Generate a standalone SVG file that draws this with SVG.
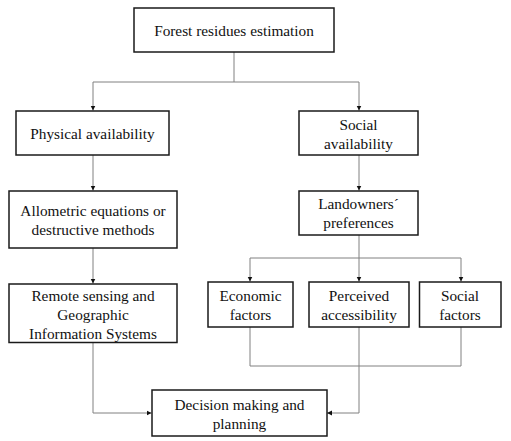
<svg xmlns="http://www.w3.org/2000/svg" width="511" height="441" viewBox="0 0 511 441">
<style>
.box{fill:#fff;stroke:#1a1a1a;stroke-width:1.5}
.t{font-family:"Liberation Serif","Times New Roman",serif;font-size:15.3px;fill:#111;text-anchor:middle}
.c{fill:none;stroke:#808080;stroke-width:1}
</style>
<defs>
<marker id="ah" markerUnits="userSpaceOnUse" markerWidth="6" markerHeight="6" refX="5" refY="3" orient="auto">
<path d="M0,0.5 L5,3 L0,5.5 z" fill="#111"/>
</marker>
</defs>
<rect width="511" height="441" fill="#fff"/>
<g id="connectors">
<path class="c" d="M234,52 V82 M93,82 H359"/>
<path class="c" d="M93,82 V110.5" marker-end="url(#ah)"/>
<path class="c" d="M359,82 V110.5" marker-end="url(#ah)"/>
<path class="c" d="M93,155 V190.5" marker-end="url(#ah)"/>
<path class="c" d="M359,155 V190.5" marker-end="url(#ah)"/>
<path class="c" d="M93,248 V283.5" marker-end="url(#ah)"/>
<path class="c" d="M359,235 V281.5" marker-end="url(#ah)"/>
<path class="c" d="M250,258 H461"/>
<path class="c" d="M250,258 V281.5" marker-end="url(#ah)"/>
<path class="c" d="M461,258 V281.5" marker-end="url(#ah)"/>
<path class="c" d="M250,327 V366 H461 V327"/>
<path class="c" d="M93,343 V413 H151.5" marker-end="url(#ah)"/>
<path class="c" d="M359,327 V413 H327" marker-end="url(#ah)"/>
</g>
<g id="forest-residues">
<rect class="box" x="134" y="8" width="200" height="44"/>
<text class="t" x="234" y="36">Forest residues estimation</text>
</g>
<g id="physical-availability">
<rect class="box" x="16" y="111" width="153" height="44"/>
<text class="t" x="92.5" y="138.5">Physical availability</text>
</g>
<g id="social-availability">
<rect class="box" x="299" y="111" width="119" height="44"/>
<text class="t" x="358.5" y="129.5">Social</text>
<text class="t" x="358.5" y="148.5">availability</text>
</g>
<g id="allometric">
<rect class="box" x="9" y="191" width="168" height="57"/>
<text class="t" x="93" y="216">Allometric equations or</text>
<text class="t" x="93" y="234.5">destructive methods</text>
</g>
<g id="landowners">
<rect class="box" x="299" y="191" width="119" height="44"/>
<text class="t" x="358.5" y="209">Landowners´</text>
<text class="t" x="358.5" y="228">preferences</text>
</g>
<g id="remote-sensing">
<rect class="box" x="9" y="284" width="168" height="58.5"/>
<text class="t" x="93" y="300.5">Remote sensing and</text>
<text class="t" x="93" y="319.5">Geographic</text>
<text class="t" x="93" y="338.5">Information Systems</text>
</g>
<g id="economic">
<rect class="box" x="208" y="282" width="85" height="45"/>
<text class="t" x="250.5" y="301">Economic</text>
<text class="t" x="250.5" y="320">factors</text>
</g>
<g id="perceived">
<rect class="box" x="309" y="282" width="100" height="45"/>
<text class="t" x="359" y="301">Perceived</text>
<text class="t" x="359" y="320">accessibility</text>
</g>
<g id="social-factors">
<rect class="box" x="419.5" y="282" width="81.5" height="45"/>
<text class="t" x="460" y="301">Social</text>
<text class="t" x="460" y="320">factors</text>
</g>
<g id="decision">
<rect class="box" x="152" y="390" width="175" height="46"/>
<text class="t" x="239.5" y="409.5">Decision making and</text>
<text class="t" x="239.5" y="428.5">planning</text>
</g>
</svg>
